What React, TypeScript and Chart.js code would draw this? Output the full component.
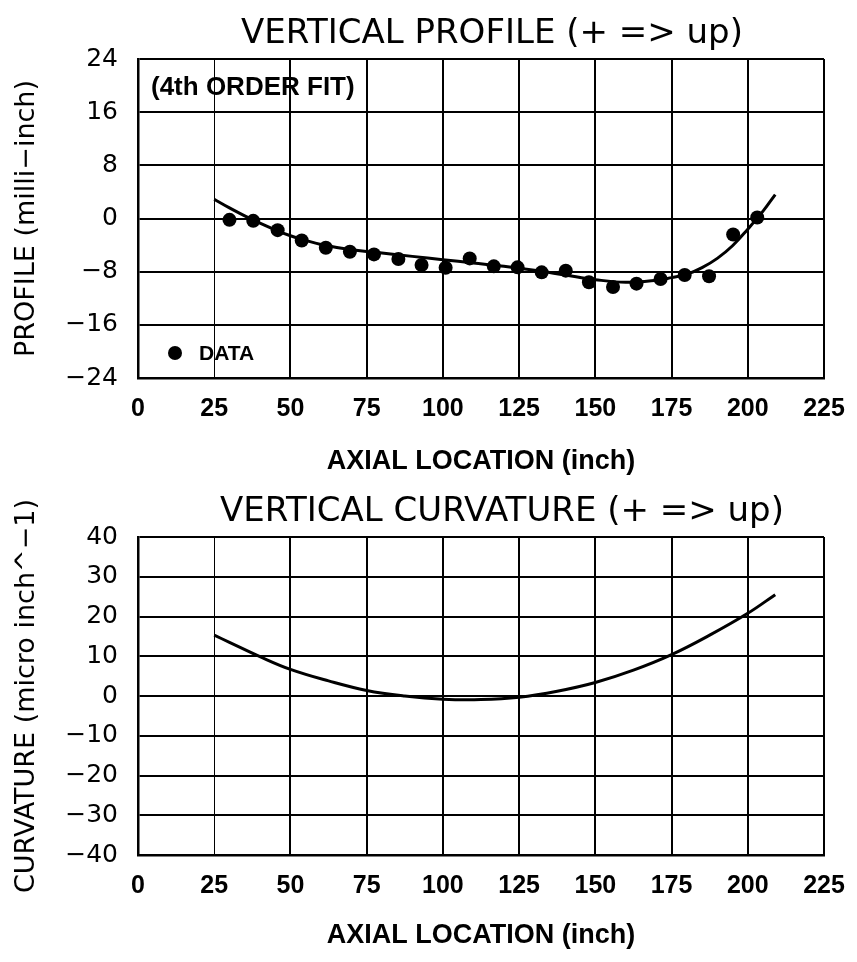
import React, { useEffect, useRef } from "react";
import { Chart, registerables } from "chart.js";

Chart.register(...registerables);

// ---------- data ----------
const axialTicks = [0, 25, 50, 75, 100, 125, 150, 175, 200, 225];
const profileTicks = [-24, -16, -8, 0, 8, 16, 24];
const curvatureTicks = [-40, -30, -20, -10, 0, 10, 20, 30, 40];

const dataX = [30, 37.8, 45.8, 53.7, 61.6, 69.5, 77.4, 85.4, 93.0, 100.9, 108.8, 116.7, 124.5, 132.4, 140.3, 147.9, 155.8, 163.5, 171.4, 179.3, 187.3, 195.2, 203.1];
const dataY = [-0.2, -0.35, -1.75, -3.3, -4.4, -5.0, -5.4, -6.1, -7.0, -7.4, -6.0, -7.2, -7.35, -8.1, -7.85, -9.6, -10.3, -9.8, -9.1, -8.5, -8.7, -2.4, 0.15];

const fitX = [25, 30, 35, 40, 45, 50, 55, 60, 70, 80, 90, 100, 110, 120, 130, 140, 150, 160, 170, 175, 180, 185, 190, 195, 200, 205, 209];
const fitY = [2.9, 1.6, 0.4, -0.7, -1.7, -2.6, -3.3, -3.9, -4.7, -5.2, -5.7, -6.2, -6.7, -7.2, -7.8, -8.5, -9.2, -9.6, -9.3, -8.9, -8.4, -7.4, -6.0, -4.1, -1.6, 1.1, 3.6];

const curvX = [25, 30, 40, 50, 62.5, 75, 87.5, 100, 112.5, 125, 137.5, 150, 162.5, 175, 187.5, 200, 209];
const curvY = [15.3, 13.5, 9.9, 6.7, 3.8, 1.4, 0.0, -0.8, -0.9, -0.3, 1.2, 3.4, 6.5, 10.4, 15.3, 20.8, 25.5];

const TITLE_TOP = "VERTICAL PROFILE (+ => up)";
const TITLE_BOTTOM = "VERTICAL CURVATURE (+ => up)";
const X_TITLE = "AXIAL LOCATION (inch)";
const Y_TITLE_TOP = "PROFILE (milli\u2212inch)";
const Y_TITLE_BOTTOM = "CURVATURE (micro inch^\u22121)";
const NOTE = "(4th ORDER FIT)";
const LEGEND_LABEL = "DATA";

// ---------- helpers ----------
const REG = "'DejaVu Sans', 'Liberation Sans', sans-serif";
const BOLD = "'Liberation Sans', Arial, sans-serif";

const fmt = (v: number | string) => String(v).replace("-", "\u2212");

type TextItem = { text: string; x: number; y: number; font: string; align?: CanvasTextAlign; dot?: boolean };

const textPlugin = (id: string, items: TextItem[]) => ({
  id,
  afterDraw(chart: any) {
    const ctx = chart.ctx as CanvasRenderingContext2D;
    ctx.save();
    ctx.fillStyle = "#000";
    ctx.textBaseline = "middle";
    for (const it of items) {
      if (it.dot) {
        ctx.beginPath();
        ctx.arc(it.x, it.y, 7, 0, Math.PI * 2);
        ctx.fill();
        continue;
      }
      ctx.font = it.font;
      ctx.textAlign = it.align || "center";
      ctx.fillText(it.text, it.x, it.y);
    }
    ctx.restore();
  },
});

const gridOpts = (thinValue?: number) => ({
  color: "#000",
  lineWidth: (c: any) => (thinValue !== undefined && c.tick && c.tick.value === thinValue ? 1 : 2),
  drawTicks: false,
});

function makeScales(opts: {
  yTicks: number[];
  yTitle: string;
  xHeight: number;
  xTitlePad: number;
  xTickPad: number;
}) {
  const yMin = opts.yTicks[0];
  const yMax = opts.yTicks[opts.yTicks.length - 1];
  const yStep = opts.yTicks[1] - opts.yTicks[0];
  return {
    x: {
      type: "linear" as const,
      min: axialTicks[0],
      max: axialTicks[axialTicks.length - 1],
      afterFit: (s: any) => {
        s.height = opts.xHeight;
        s.paddingLeft = 0;
        s.paddingRight = 0;
      },
      ticks: {
        stepSize: axialTicks[1] - axialTicks[0],
        padding: opts.xTickPad,
        color: "#000",
        maxRotation: 0,
        autoSkip: false,
        font: { family: BOLD, size: 25, weight: "bold" as const },
        callback: (v: any) => fmt(v),
      },
      grid: gridOpts(25),
      border: { display: true, color: "#000", width: 2.5 },
      title: {
        display: true,
        text: X_TITLE,
        color: "#000",
        font: { family: BOLD, size: 27, weight: "bold" as const },
        padding: { top: 0, bottom: opts.xTitlePad },
      },
    },
    y: {
      type: "linear" as const,
      min: yMin,
      max: yMax,
      afterFit: (s: any) => {
        s.width = 138;
        s.paddingTop = 0;
        s.paddingBottom = 0;
      },
      ticks: {
        stepSize: yStep,
        padding: 20,
        color: "#000",
        font: { family: REG, size: 25 },
        callback: (v: any) => fmt(v),
      },
      grid: gridOpts(),
      border: { display: true, color: "#000", width: 2.5 },
      title: {
        display: true,
        text: opts.yTitle,
        color: "#000",
        font: { family: REG, size: 27 },
        padding: { top: 11, bottom: 0 },
      },
    },
  };
}

function ProfileChart() {
  const ref = useRef<HTMLCanvasElement | null>(null);
  useEffect(() => {
    if (!ref.current) return;
    const chart = new Chart(ref.current, {
      type: "scatter",
      data: {
        datasets: [
          {
            type: "line",
            label: "FIT",
            data: fitX.map((x, i) => ({ x, y: fitY[i] })),
            borderColor: "#000",
            borderWidth: 3,
            pointRadius: 0,
            tension: 0.4,
            fill: false,
          },
          {
            type: "scatter",
            label: LEGEND_LABEL,
            data: dataX.map((x, i) => ({ x, y: dataY[i] })),
            backgroundColor: "#000",
            borderColor: "#000",
            pointRadius: 7,
            pointBorderWidth: 0,
          },
        ],
      } as any,
      options: {
        responsive: false,
        animation: false,
        layout: { padding: { left: 0, right: 33, top: 59, bottom: 0 } },
        plugins: { legend: { display: false }, tooltip: { enabled: false }, title: { display: false } },
        scales: makeScales({ yTicks: profileTicks, yTitle: Y_TITLE_TOP, xHeight: 102, xTitlePad: 2, xTickPad: 16 }) as any,
      },
      plugins: [
        textPlugin("topTexts", [
          { text: TITLE_TOP, x: 492, y: 34, font: `34px ${REG}` },
          { text: NOTE, x: 151, y: 88, font: `bold 26px ${BOLD}`, align: "left" },
          { text: "", x: 175, y: 353, font: "", dot: true },
          { text: LEGEND_LABEL, x: 199, y: 354, font: `bold 21px ${BOLD}`, align: "left" },
        ]),
      ],
    });
    return () => chart.destroy();
  }, []);
  return <canvas ref={ref} width={857} height={480} style={{ display: "block", width: 857, height: 480 }} />;
}

function CurvatureChart() {
  const ref = useRef<HTMLCanvasElement | null>(null);
  useEffect(() => {
    if (!ref.current) return;
    const chart = new Chart(ref.current, {
      type: "line",
      data: {
        datasets: [
          {
            label: "CURVATURE",
            data: curvX.map((x, i) => ({ x, y: curvY[i] })),
            borderColor: "#000",
            borderWidth: 3,
            pointRadius: 0,
            tension: 0.4,
            fill: false,
          },
        ],
      } as any,
      options: {
        responsive: false,
        animation: false,
        layout: { padding: { left: 0, right: 33, top: 57, bottom: 0 } },
        plugins: { legend: { display: false }, tooltip: { enabled: false }, title: { display: false } },
        scales: makeScales({ yTicks: curvatureTicks, yTitle: Y_TITLE_BOTTOM, xHeight: 107, xTitlePad: 10, xTickPad: 16 }) as any,
      },
      plugins: [textPlugin("bottomTexts", [{ text: TITLE_BOTTOM, x: 502, y: 32, font: `34px ${REG}` }])],
    });
    return () => chart.destroy();
  }, []);
  return <canvas ref={ref} width={857} height={482} style={{ display: "block", width: 857, height: 482 }} />;
}

export default function App() {
  return (
    <div style={{ position: "absolute", left: 0, top: 0, width: 857, height: 962, background: "#fff" }}>
      <ProfileChart />
      <CurvatureChart />
    </div>
  );
}
